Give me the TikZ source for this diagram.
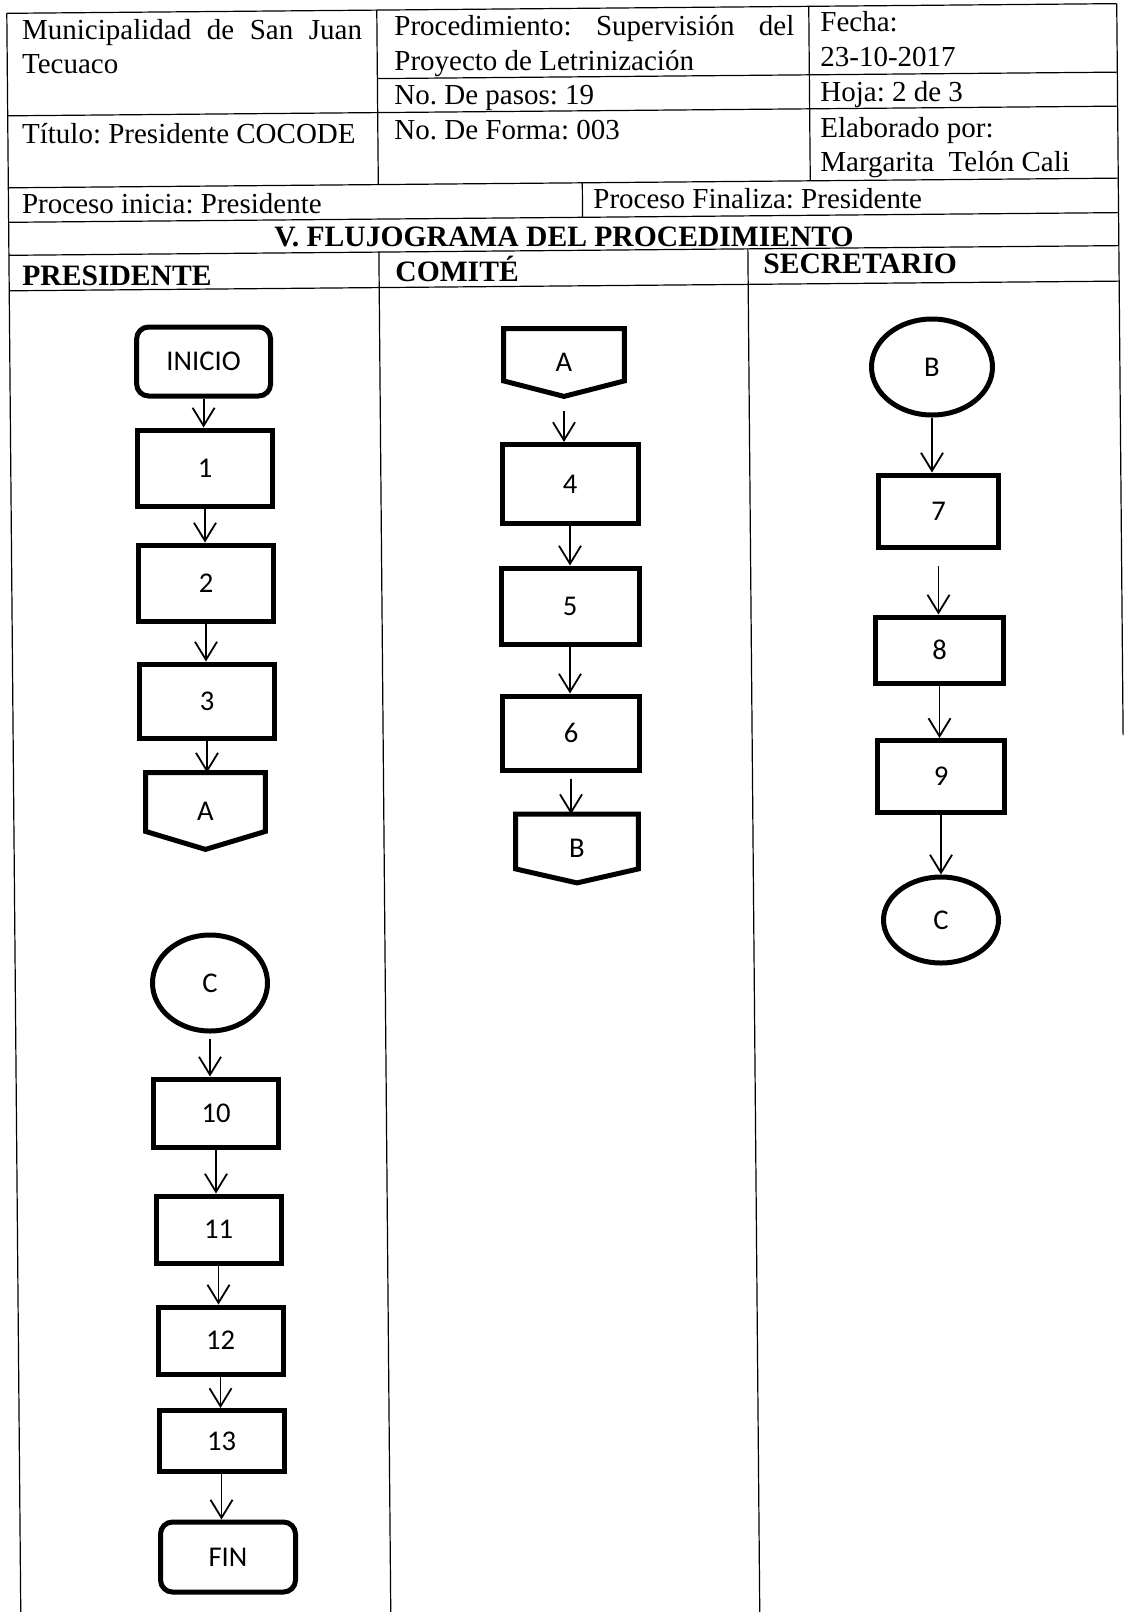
\documentclass[tikz,border=0pt]{standalone}
\usepackage{fontspec}
\setmainfont{Liberation Serif}
\newfontfamily\flowfont{Carlito}
\usetikzlibrary{shapes.geometric,arrows.meta,calc}
\frenchspacing
\begin{document}
\begin{tikzpicture}[x=0.5pt,y=-0.5pt,
  tline/.style={line width=0.6pt},
  hd/.style={anchor=base west,inner sep=0pt,font=\fontsize{14.5}{17}\selectfont},
  hdb/.style={anchor=base west,inner sep=0pt,font=\fontsize{14.8}{17}\selectfont\bfseries},
  sz/.style 2 args={minimum width=#1*0.5pt,minimum height=#2*0.5pt},
  box/.style={draw,line width=2.5pt,rectangle,inner sep=0pt,font=\flowfont\fontsize{14.3}{16}\selectfont},
  term/.style={box,rounded corners=6pt},
  conn/.style={box,ellipse},
  offp/.style={rectangle,inner sep=0pt,font=\flowfont\fontsize{14.3}{16}\selectfont},
  offline/.style={line width=2.5pt},
  arr/.style={-{Straight Barb[length=9pt,width=11pt]},line width=0.9pt}
]
\useasboundingbox (0,0) rectangle (1124,1612);

% ---------- table lines (scan is slightly rotated) ----------
\begin{scope}[rotate around={0.5:(560,150)}]
  \draw[tline] (8,8.5) -- (1118,8.5);
  \draw[tline] (8,8.5) -- (8,1640);
  \draw[tline] (1118,8.5) -- (1118,740);
  \draw[tline] (378,8.5) -- (378,183);
  \draw[tline] (810,8.5) -- (810,183);
  \draw[tline] (378,77) -- (1118,77);
  \draw[tline] (8,111) -- (1118,111);
  \draw[tline] (8,183) -- (1118,183);
  \draw[tline] (582,183) -- (582,217.5);
  \draw[tline] (8,217.5) -- (1118,217.5);
  \draw[tline] (8,250.5) -- (1118,250.5);
  \draw[tline] (8,286) -- (1118,286);
  \draw[tline] (378,250.5) -- (378,1640);
  \draw[tline] (747,250.5) -- (747,1640);
\end{scope}

% ---------- header texts ----------
\node[hd] (muni) at (21.7,39.5) {\makebox[170pt][s]{Municipalidad de San Juan}};
\node[hd] (tecu) at (21.7,73.7) {Tecuaco};
\node[hd] (titu) at (21.7,143.7) {Título: Presidente COCODE};
\node[hd] (pini) at (21.7,213.5) {Proceso inicia: Presidente};
\node[hd] (proc) at (394,35.3) {\makebox[200pt]{Procedimiento:\hfill Supervisión\hfill del}};
\node[hd] (proy) at (394,70.3) {Proyecto de Letrinización};
\node[hd] (paso) at (394,104.7) {No. De pasos: 19};
\node[hd] (form) at (394,139.3) {No. De Forma: 003};
\node[hd] (pfin) at (593,208.8) {Proceso Finaliza: Presidente};
\node[hd] (fech) at (820,31.7) {Fecha:};
\node[hd] (fval) at (820,66.7) {23-10-2017};
\node[hd] (hoja) at (820,101.5) {Hoja: 2 de 3};
\node[hd] (elab) at (820,137.5) {Elaborado por:};
\node[hd] (marg) at (820,171.5) {Margarita\ \ Telón Cali};
\node[anchor=base,inner sep=0pt,font=\fontsize{14.8}{17}\selectfont\bfseries] (flujo) at (564,246) {V. FLUJOGRAMA DEL PROCEDIMIENTO};
\node[hdb] (lpres) at (22,285) {PRESIDENTE};
\node[hdb] (lcomi) at (395,281.7) {COMITÉ};
\node[hdb] (lsecr) at (763,273.3) {SECRETARIO};

% ---------- PRESIDENTE lane ----------
\node[term,sz={134}{69}] (ini) at (203.6,361.5) {INICIO};
\node[box,sz={135}{76}] (p1) at (205,468) {1};
\node[box,sz={135}{76}] (p2) at (206,583) {2};
\node[box,sz={135}{74}] (p3) at (207,701) {3};
\node[offp,sz={119}{76}] (pA) at (205.5,811) {A};
\draw[offline] (pA.north west) -- (pA.north east) -- ([yshift=9pt]pA.south east) -- (pA.south) -- ([yshift=9pt]pA.south west) -- cycle;

\node[conn,sz={115}{96}] (pC) at (210,983) {C};
\node[box,sz={125}{68}] (p10) at (216,1113) {10};
\node[box,sz={125}{67}] (p11) at (218.5,1229.5) {11};
\node[box,sz={125}{67}] (p12) at (220.5,1340.5) {12};
\node[box,sz={125}{61}] (p13) at (221.5,1441) {13};
\node[term,sz={135}{70}] (fin) at (228,1557) {FIN};

\draw[arr] (ini.south) -- (ini.south |- p1.north);
\draw[arr] (p1.south) -- (p1.south |- p2.north);
\draw[arr] (p2.south) -- (p2.south |- p3.north);
\draw[arr] (p3.south) -- (p3.south |- pA.north);
\draw[arr,shorten <=2.5pt] (pC.south) -- (pC.south |- p10.north);
\draw[arr] (p10.south) -- (p10.south |- p11.north);
\draw[arr] (p11.south) -- (p11.south |- p12.north);
\draw[arr] (p12.south) -- (p12.south |- p13.north);
\draw[arr] (p13.south) -- (p13.south |- fin.north);

% ---------- COMITE lane ----------
\node[offp,sz={120}{67}] (cA) at (564,362.5) {A};
\draw[offline] (cA.north west) -- (cA.north east) -- ([yshift=7.75pt]cA.south east) -- (cA.south) -- ([yshift=7.75pt]cA.south west) -- cycle;
\node[box,sz={136}{79}] (c4) at (570,484) {4};
\node[box,sz={138}{76}] (c5) at (570,606) {5};
\node[box,sz={137}{74}] (c6) at (571,733) {6};
\node[offp,sz={122}{68}] (cB) at (577,848.5) {B};
\draw[offline] (cB.north west) -- (cB.north east) -- ([yshift=7pt]cB.south east) -- (cB.south) -- ([yshift=7pt]cB.south west) -- cycle;

\draw[arr,shorten <=7.5pt] (cA.south) -- (cA.south |- c4.north);
\draw[arr] (c4.south) -- (c4.south |- c5.north);
\draw[arr] (c5.south) -- (c5.south |- c6.north);
\draw[arr,shorten <=3pt] (c6.south) -- (c6.south |- cB.north);

% ---------- SECRETARIO lane ----------
\node[conn,sz={121}{96}] (sB) at (932,367) {B};
\node[box,sz={120}{72}] (s7) at (938.5,511) {7};
\node[box,sz={128}{66}] (s8) at (939.5,650) {8};
\node[box,sz={127}{72}] (s9) at (941,776.5) {9};
\node[conn,sz={115}{86}] (sC) at (941,920) {C};

\draw[arr] (sB.south) -- (sB.south |- s7.north);
\draw[arr,shorten <=8pt] (s7.south) -- (s7.south |- s8.north);
\draw[arr] (s8.south) -- (s8.south |- s9.north);
\draw[arr] (s9.south) -- (s9.south |- sC.north);
\end{tikzpicture}
\end{document}
